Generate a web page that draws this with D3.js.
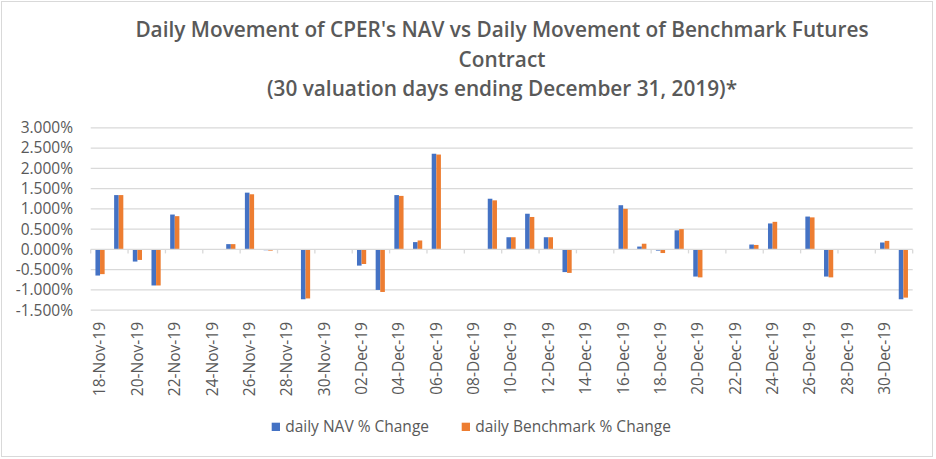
<!DOCTYPE html>
<html>
<head>
<meta charset="utf-8">
<script src="https://cdn.jsdelivr.net/npm/d3@7"></script>
<style>
  html, body { margin: 0; padding: 0; background: #fff; }
  svg { display: block; }
  text { font-family: "Open Sans", "Noto Sans", sans-serif; fill: #595959; }
</style>
</head>
<body>
<svg id="chart" width="936" height="459"></svg>
<script>
// ---- data ----
const titleLines = [
  "Daily Movement of CPER's NAV vs Daily Movement of Benchmark Futures",
  "Contract",
  "(30 valuation days ending December 31, 2019)*"
];
const seriesNames = ["daily NAV % Change", "daily Benchmark % Change"];
const seriesColors = ["#4472C4", "#ED7D31"];
const valuationDates = [
  "18-Nov-19","19-Nov-19","20-Nov-19","21-Nov-19","22-Nov-19","25-Nov-19","26-Nov-19","27-Nov-19","29-Nov-19",
  "02-Dec-19","03-Dec-19","04-Dec-19","05-Dec-19","06-Dec-19","09-Dec-19","10-Dec-19","11-Dec-19","12-Dec-19","13-Dec-19",
  "16-Dec-19","17-Dec-19","18-Dec-19","19-Dec-19","20-Dec-19","23-Dec-19","24-Dec-19","26-Dec-19","27-Dec-19","30-Dec-19","31-Dec-19"
];
const navChange = [
  -0.645, 1.34, -0.30, -0.89, 0.86, 0.13, 1.40, -0.02, -1.23,
  -0.40, -1.00, 1.34, 0.18, 2.36, 1.25, 0.30, 0.88, 0.30, -0.56,
  1.09, 0.07, -0.03, 0.47, -0.67, 0.12, 0.64, 0.81, -0.67, 0.17, -1.23
];
const benchmarkChange = [
  -0.61, 1.34, -0.26, -0.89, 0.82, 0.13, 1.36, -0.03, -1.21,
  -0.36, -1.05, 1.32, 0.22, 2.34, 1.21, 0.30, 0.80, 0.30, -0.58,
  1.00, 0.14, -0.09, 0.50, -0.69, 0.11, 0.68, 0.79, -0.69, 0.21, -1.19
];
const xTickLabels = [
  "18-Nov-19","20-Nov-19","22-Nov-19","24-Nov-19","26-Nov-19","28-Nov-19","30-Nov-19",
  "02-Dec-19","04-Dec-19","06-Dec-19","08-Dec-19","10-Dec-19","12-Dec-19","14-Dec-19","16-Dec-19",
  "18-Dec-19","20-Dec-19","22-Dec-19","24-Dec-19","26-Dec-19","28-Dec-19","30-Dec-19"
];
const yTicks = [-1.5, -1.0, -0.5, 0, 0.5, 1.0, 1.5, 2.0, 2.5, 3.0];

// ---- layout ----
const svg = d3.select("#chart");
const parse = d3.utcParse("%d-%b-%y");
const plot = { left: 90.7, right: 912.7, top: 127.8, bottom: 310.2 };

// outer frame
svg.append("rect").attr("x", 1.5).attr("y", 1.5).attr("width", 931).attr("height", 455)
  .attr("fill", "#fff").attr("stroke", "#d9d9d9").attr("stroke-width", 1);

// title
const title = svg.append("text").attr("text-anchor", "middle")
  .style("font-size", "20.8px").style("font-weight", 600);
titleLines.forEach((t, i) => {
  title.append("tspan").attr("x", 502).attr("y", 37 + i * 29.5).text(t);
});

const startDay = parse(xTickLabels[0]);
const endDay = d3.utcDay.offset(parse(valuationDates[valuationDates.length - 1]), 1);
const x = d3.scaleUtc().domain([startDay, endDay]).range([plot.left, plot.right]);
const y = d3.scaleLinear().domain([-1.5, 3.0]).range([plot.bottom, plot.top]);

// gridlines
svg.append("g").selectAll("line").data(yTicks.filter(v => v !== 0)).join("line")
  .attr("x1", plot.left).attr("x2", plot.right)
  .attr("y1", d => y(d)).attr("y2", d => y(d))
  .attr("stroke", "#d9d9d9").attr("stroke-width", 1.3);

// y labels
svg.append("g").selectAll("text").data(yTicks).join("text")
  .attr("x", 73).attr("y", d => y(d)).attr("dy", "0.35em")
  .attr("text-anchor", "end").style("font-size", "15.5px")
  .text(d => d.toFixed(3) + "%");

// bars
const dayWidth = x(d3.utcDay.offset(startDay, 1)) - x(startDay);
const x1 = d3.scaleBand().domain([0, 1]).range([0, dayWidth]).paddingInner(0).paddingOuter(1.03);
const rows = [];
valuationDates.forEach((d, i) => {
  rows.push({ date: parse(d), s: 0, v: navChange[i] });
  rows.push({ date: parse(d), s: 1, v: benchmarkChange[i] });
});
svg.append("g").selectAll("rect").data(rows).join("rect")
  .attr("x", d => x(d.date) + x1(d.s))
  .attr("width", x1.bandwidth())
  .attr("y", d => y(Math.max(0, d.v)))
  .attr("height", d => Math.abs(y(d.v) - y(0)))
  .attr("fill", d => seriesColors[d.s]);

// zero axis line + ticks
const y0 = y(0);
svg.append("line").attr("x1", plot.left).attr("x2", plot.right).attr("y1", y0).attr("y2", y0)
  .attr("stroke", "#d9d9d9").attr("stroke-width", 1.3);
const tickDates = xTickLabels.map(parse).concat([endDay]);
svg.append("g").selectAll("line").data(tickDates).join("line")
  .attr("x1", d => x(d)).attr("x2", d => x(d))
  .attr("y1", y0).attr("y2", y0 + 4)
  .attr("stroke", "#d9d9d9").attr("stroke-width", 1.3);

// x labels (rotated)
svg.append("g").selectAll("text").data(xTickLabels).join("text")
  .attr("transform", d => {
    const cx = x(d3.utcHour.offset(parse(d), 12));
    return `translate(${cx},322) rotate(-90)`;
  })
  .attr("text-anchor", "end").attr("dy", "0.35em")
  .style("font-size", "15.5px")
  .text(d => d);

// legend
const legendX = [271.7, 461.7];
const lg = svg.append("g").selectAll("g").data(seriesNames).join("g")
  .attr("transform", (d, i) => `translate(${legendX[i]},422.7)`);
lg.append("rect").attr("width", 8.3).attr("height", 8.3).attr("fill", (d, i) => seriesColors[i]);
lg.append("text").attr("x", 13.5).attr("y", 4.3).attr("dy", "0.35em")
  .style("font-size", "15.5px").text(d => d);
</script>
</body>
</html>
